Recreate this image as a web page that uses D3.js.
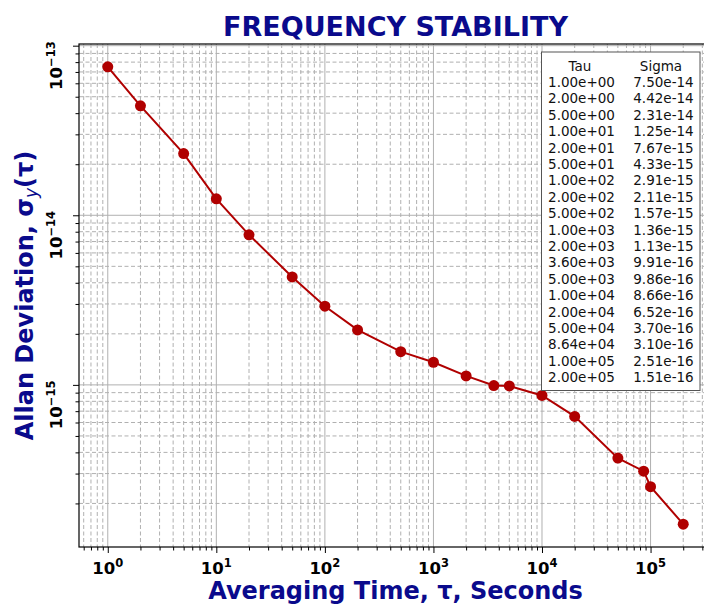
<!DOCTYPE html>
<html>
<head>
<meta charset="utf-8">
<script src="https://cdn.jsdelivr.net/npm/d3@7"></script>
<style>
  html, body { margin: 0; padding: 0; background: #fff; }
  svg { display: block; font-family: "DejaVu Sans", sans-serif; }
</style>
</head>
<body>
<svg id="chart" width="704" height="605"></svg>
<script>
// ---- data ----
const tau = [1, 2, 5, 10, 20, 50, 100, 200, 500, 1000, 2000, 3600, 5000, 1e4, 2e4, 5e4, 8.64e4, 1e5, 2e5];
const sigma = [7.50e-14, 4.42e-14, 2.31e-14, 1.25e-14, 7.67e-15, 4.33e-15, 2.91e-15, 2.11e-15, 1.57e-15,
               1.36e-15, 1.13e-15, 9.91e-16, 9.86e-16, 8.66e-16, 6.52e-16, 3.70e-16, 3.10e-16, 2.51e-16, 1.51e-16];
const xMajorTicks = [1, 10, 100, 1000, 1e4, 1e5];
const xTickExponents = ["0", "1", "2", "3", "4", "5"];
const yMajorTicks = [1e-13, 1e-14, 1e-15];
const yTickExponents = ["\u221213", "\u221214", "\u221215"];
const tableHeaders = ["Tau", "Sigma"];
const titleText = "FREQUENCY STABILITY";
const xLabelText = "Averaging Time, \u03c4, Seconds";

// ---- layout ----
const svg = d3.select("#chart");
const L = 79, R = 712, T = 44, B = 547;
const lx = d3.extent(tau.map(Math.log10));
const ly = d3.extent(sigma.map(Math.log10));
const mx = (lx[1] - lx[0]) * 0.05, my = (ly[1] - ly[0]) * 0.05;
const x = d3.scaleLog().domain([Math.pow(10, lx[0] - mx), Math.pow(10, lx[1] + mx)]).range([L, R]);
const y = d3.scaleLog().domain([Math.pow(10, ly[0] - my), Math.pow(10, ly[1] + my)]).range([B, T]);

function minorTicks(scale) {
  const [a, b] = scale.domain();
  const out = [];
  for (let e = Math.floor(Math.log10(Math.min(a, b))) - 1; e <= Math.ceil(Math.log10(Math.max(a, b))); e++) {
    for (let m = 2; m <= 9; m++) {
      const v = m * Math.pow(10, e);
      if (v >= Math.min(a, b) && v <= Math.max(a, b)) out.push(v);
    }
  }
  return out;
}
const xMinor = minorTicks(x), yMinor = minorTicks(y);

svg.append("defs").append("clipPath").attr("id", "clip")
  .append("rect").attr("x", L).attr("y", T).attr("width", R - L).attr("height", B - T);

const grid = svg.append("g").attr("clip-path", "url(#clip)");
// minor grid (dashed)
grid.selectAll(".xmin").data(xMinor).join("line")
  .attr("x1", d => x(d)).attr("x2", d => x(d)).attr("y1", T).attr("y2", B)
  .attr("stroke", "#b0b0b0").attr("stroke-width", 1).attr("stroke-dasharray", "4,2.5");
grid.selectAll(".ymin").data(yMinor).join("line")
  .attr("y1", d => y(d)).attr("y2", d => y(d)).attr("x1", L).attr("x2", R)
  .attr("stroke", "#b0b0b0").attr("stroke-width", 1).attr("stroke-dasharray", "4,2.5");
// major grid (solid)
grid.selectAll(".xmaj").data(xMajorTicks).join("line")
  .attr("x1", d => x(d)).attr("x2", d => x(d)).attr("y1", T).attr("y2", B)
  .attr("stroke", "#b0b0b0").attr("stroke-width", 1);
grid.selectAll(".ymaj").data(yMajorTicks).join("line")
  .attr("y1", d => y(d)).attr("y2", d => y(d)).attr("x1", L).attr("x2", R)
  .attr("stroke", "#b0b0b0").attr("stroke-width", 1);

// axes using d3 axis generators (ticks only, labels drawn separately)
const xAxisMaj = d3.axisBottom(x).tickValues(xMajorTicks).tickSize(6).tickFormat("");
const xAxisMin = d3.axisBottom(x).tickValues(xMinor).tickSize(3.5).tickFormat("");
const yAxisMaj = d3.axisLeft(y).tickValues(yMajorTicks).tickSize(6).tickFormat("");
const yAxisMin = d3.axisLeft(y).tickValues(yMinor).tickSize(3.5).tickFormat("");
[xAxisMaj, xAxisMin].forEach(ax => {
  const g = svg.append("g").attr("transform", `translate(0,${B})`).call(ax);
  g.select(".domain").remove();
  g.selectAll("line").attr("stroke", "#000").attr("stroke-width", 1);
});
[yAxisMaj, yAxisMin].forEach(ax => {
  const g = svg.append("g").attr("transform", `translate(${L},0)`).call(ax);
  g.select(".domain").remove();
  g.selectAll("line").attr("stroke", "#000").attr("stroke-width", 1);
});

// spines
svg.append("rect").attr("x", L).attr("y", T).attr("width", R - L).attr("height", B - T)
  .attr("fill", "none").attr("stroke", "#000").attr("stroke-width", 1.2);

// x tick labels
xMajorTicks.forEach((v, i) => {
  const t = svg.append("text").attr("x", x(v)).attr("y", 574)
    .attr("text-anchor", "middle").attr("font-weight", "bold").attr("font-size", 16.5).attr("fill", "#000");
  t.append("tspan").text("10");
  t.append("tspan").attr("dy", -7).attr("font-size", 11.5).text(xTickExponents[i]);
});
// y tick labels (rotated)
yMajorTicks.forEach((v, i) => {
  const cy = y(v) + 20;
  const t = svg.append("text").attr("transform", `translate(62,${cy}) rotate(-90)`)
    .attr("text-anchor", "middle").attr("font-weight", "bold").attr("font-size", 16.5).attr("fill", "#000");
  t.append("tspan").text("10");
  t.append("tspan").attr("dy", -7).attr("font-size", 11.5).text(yTickExponents[i]);
});

// line and markers
const line = d3.line().x((d, i) => x(tau[i])).y(d => y(d));
svg.append("path").datum(sigma).attr("d", line)
  .attr("fill", "none").attr("stroke", "#b00000").attr("stroke-width", 2);
svg.selectAll(".pt").data(sigma).join("circle")
  .attr("cx", (d, i) => x(tau[i])).attr("cy", d => y(d)).attr("r", 5.5).attr("fill", "#b00000");

// table legend
function fmtE(v) {
  const s = v.toExponential(2);
  const m = s.match(/^(.*)e([+-])(\d+)$/);
  return m[1] + "e" + m[2] + m[3].padStart(2, "0");
}
const bx = 541.5, by = 52, bw = 158.5, bh = 338.5;
svg.append("rect").attr("x", bx).attr("y", by).attr("width", bw).attr("height", bh)
  .attr("fill", "#fff").attr("stroke", "#555").attr("stroke-width", 1);
const rowH = 16.4, base0 = 70.5, fs = 13.5;
svg.append("text").attr("x", 580).attr("y", base0).attr("text-anchor", "middle")
  .attr("font-size", fs).attr("fill", "#111").text(tableHeaders[0]);
svg.append("text").attr("x", 661).attr("y", base0).attr("text-anchor", "middle")
  .attr("font-size", fs).attr("fill", "#111").text(tableHeaders[1]);
tau.forEach((t, i) => {
  const yy = base0 + (i + 1) * rowH;
  svg.append("text").attr("x", 581.5).attr("y", yy).attr("text-anchor", "middle")
    .attr("font-size", fs).attr("fill", "#111").text(fmtE(t));
  svg.append("text").attr("x", 663.5).attr("y", yy).attr("text-anchor", "middle")
    .attr("font-size", fs).attr("fill", "#111").text(fmtE(sigma[i]));
});

// title and axis labels
const navy = "#0a0a8c";
svg.append("text").attr("x", (L + R) / 2).attr("y", 36).attr("text-anchor", "middle")
  .attr("font-weight", "bold").attr("font-size", 27).attr("fill", navy).text(titleText);
svg.append("text").attr("x", (L + R) / 2).attr("y", 599).attr("text-anchor", "middle")
  .attr("font-weight", "bold").attr("font-size", 24).attr("fill", navy).text(xLabelText);
const yl = svg.append("text").attr("transform", `translate(33,${(T + B) / 2}) rotate(-90)`)
  .attr("text-anchor", "middle").attr("font-weight", "bold").attr("font-size", 24).attr("fill", navy);
yl.append("tspan").text("Allan Deviation, \u03c3");
yl.append("tspan").attr("dy", 4).attr("font-size", 17).attr("font-style", "italic").attr("font-weight", "normal").text("y");
yl.append("tspan").attr("dy", -4).text("(\u03c4)");
</script>
</body>
</html>
